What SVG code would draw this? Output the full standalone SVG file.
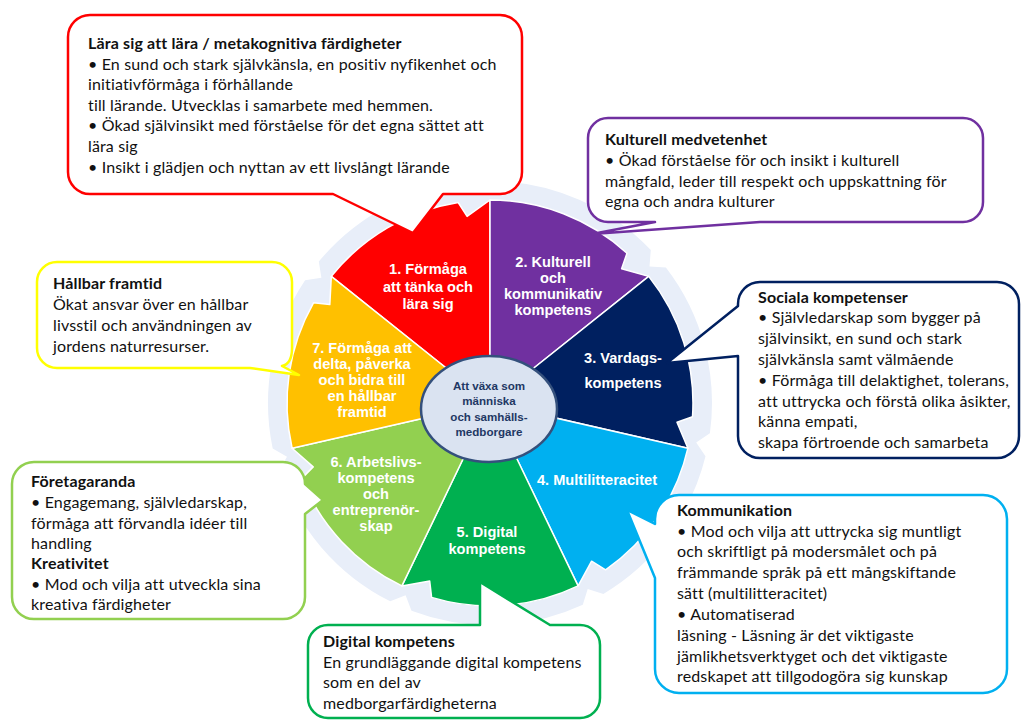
<svg xmlns="http://www.w3.org/2000/svg" width="1022" height="720" viewBox="0 0 1022 720">
<style>
.t{font-family:Lato,"Open Sans","Liberation Sans",sans-serif;font-size:16px;letter-spacing:0.15px;fill:#111}
.b{font-weight:bold}
.w{font-family:"Liberation Sans",Arial,sans-serif;font-weight:bold;font-size:14.6px;fill:#fff;text-anchor:middle}
.c{font-family:"Liberation Sans",Arial,sans-serif;font-weight:bold;font-size:11.6px;fill:#1F3864;text-anchor:middle}
.sec{stroke:#fff;stroke-width:1.5;stroke-linejoin:round}
.co{fill:#fff;stroke-width:2.5;stroke-linejoin:round}
</style>
<rect width="1022" height="720" fill="#fff"/>
<g id="ring">
<path fill="#E8EEF9" d="M493.9,181 A222,222 0 0 1 650.8,250 L649.5,266.4 L665.9,267.6 A222,222 0 0 1 709.9,433.3 L696.2,442.6 L705.5,456.2 A222,222 0 0 1 603.4,593.9 L587.7,588.9 L582.8,604.7 A222,222 0 0 1 411.5,610.7 L405.6,595.3 L390.2,601.3 A222,222 0 0 1 278.7,471.1 L287,456.8 L272.7,448.6 A222,222 0 0 1 305.1,280.2 L321.4,277.8 L318.8,261.6 A222,222 0 0 1 470.6,181.8 L482.7,193.1 Z"/>
</g>
<g id="s1">
<path class="sec" fill="#FF0000" d="M490,403 L331.3,276.4 A203,203 0 0 1 458.2,202.5 L467.1,216.4 L490,200 Z"/>
<text class="w" x="428" y="274">1. Förmåga</text>
<text class="w" x="428" y="292">att tänka och</text>
<text class="w" x="428" y="309">lära sig</text>
</g>
<g id="s2">
<path class="sec" fill="#7030A0" d="M490,403 L490,200 A203,203 0 0 1 627,253.2 L621.6,268.7 L648.7,276.4 Z"/>
<text class="w" x="553" y="267">2. Kulturell</text>
<text class="w" x="553" y="283">och</text>
<text class="w" x="553" y="299">kommunikativ</text>
<text class="w" x="553" y="315">kompetens</text>
</g>
<g id="s3">
<path class="sec" fill="#002060" d="M490,403 L648.7,276.4 A203,203 0 0 1 692.5,416.7 L677,422.2 L687.9,448.2 Z"/>
<text class="w" x="623" y="363">3. Vardags-</text>
<text class="w" x="623" y="388">kompetens</text>
</g>
<g id="s4">
<path class="sec" fill="#00B0F0" d="M490,403 L687.9,448.2 A203,203 0 0 1 605.6,569.8 L591.6,561.2 L578.1,585.9 Z"/>
<text class="w" x="597" y="485">4. Multilitteracitet</text>
</g>
<g id="s5">
<path class="sec" fill="#00B050" d="M490,403 L578.1,585.9 A203,203 0 0 1 431.6,597.4 L429.7,581.1 L401.9,585.9 Z"/>
<text class="w" x="487" y="537">5. Digital</text>
<text class="w" x="487" y="554">kompetens</text>
</g>
<g id="s6">
<path class="sec" fill="#92D050" d="M490,403 L401.9,585.9 A203,203 0 0 1 301.6,478.6 L313.2,466.9 L292.1,448.2 Z"/>
<text class="w" x="376" y="467">6. Arbetslivs-</text>
<text class="w" x="376" y="483">kompetens</text>
<text class="w" x="376" y="499">och</text>
<text class="w" x="376" y="515">entreprenör-</text>
<text class="w" x="376" y="531">skap</text>
</g>
<g id="s7">
<path class="sec" fill="#FFC000" d="M490,403 L292.1,448.2 A203,203 0 0 1 313.5,302.8 L329.8,304.6 L331.3,276.4 Z"/>
<text class="w" x="362" y="353">7. Förmåga att</text>
<text class="w" x="362" y="369">delta, påverka</text>
<text class="w" x="362" y="385">och bidra till</text>
<text class="w" x="362" y="401">en hållbar</text>
<text class="w" x="362" y="417">framtid</text>
</g>
<g id="center">
<ellipse cx="489" cy="409" rx="68" ry="53" fill="#DAE3F1" stroke="#34507C" stroke-width="2.5"/>
<text class="c" x="489" y="390">Att växa som</text>
<text class="c" x="489" y="405">människa</text>
<text class="c" x="489" y="421">och samhälls-</text>
<text class="c" x="489" y="436">medborgare</text>
</g>
<g id="c1">
<path class="co" stroke="#FF0000" d="M90,15 H500 A22,22 0 0 1 522,37 V172 A22,22 0 0 1 500,194 H443 L413,233 L333,194 H90 A22,22 0 0 1 68,172 V37 A22,22 0 0 1 90,15 Z"/>
<text class="t b" x="88" y="49">Lära sig att lära / metakognitiva färdigheter</text>
<text class="t" x="88" y="69.5">• En sund och stark självkänsla, en positiv nyfikenhet och</text>
<text class="t" x="88" y="90">initiativförmåga i förhållande</text>
<text class="t" x="88" y="110.5">till lärande. Utvecklas i samarbete med hemmen.</text>
<text class="t" x="88" y="131">• Ökad självinsikt med förståelse för det egna sättet att</text>
<text class="t" x="88" y="152">lära sig</text>
<text class="t" x="88" y="172.5">• Insikt i glädjen och nyttan av ett livslångt lärande</text>
</g>
<g id="c2">
<path class="co" stroke="#7030A0" d="M608,118 H963 A20,20 0 0 1 983,138 V202 A20,20 0 0 1 963,222 H760 L592,234 L655,222 H608 A20,20 0 0 1 588,202 V138 A20,20 0 0 1 608,118 Z"/>
<text class="t b" x="605" y="145">Kulturell medvetenhet</text>
<text class="t" x="605" y="166">• Ökad förståelse för och insikt i kulturell</text>
<text class="t" x="605" y="187">mångfald, leder till respekt och uppskattning för</text>
<text class="t" x="605" y="207">egna och andra kulturer</text>
</g>
<g id="c3">
<path class="co" stroke="#002060" d="M760,282 H997 A22,22 0 0 1 1019,304 V436 A22,22 0 0 1 997,458 H760 A22,22 0 0 1 738,436 V356 L667,363 L738,306 V304 A22,22 0 0 1 760,282 Z"/>
<text class="t b" x="758" y="303">Sociala kompetenser</text>
<text class="t" x="758" y="323">• Självledarskap som bygger på</text>
<text class="t" x="758" y="344">självinsikt, en sund och stark</text>
<text class="t" x="758" y="365">självkänsla samt välmående</text>
<text class="t" x="758" y="386">• Förmåga till delaktighet, tolerans,</text>
<text class="t" x="758" y="407">att uttrycka och förstå olika åsikter,</text>
<text class="t" x="758" y="427">känna empati,</text>
<text class="t" x="758" y="448">skapa förtroende och samarbeta</text>
</g>
<g id="c4">
<path class="co" stroke="#00B0F0" d="M679,495 H983 A24,24 0 0 1 1007,519 V669 A24,24 0 0 1 983,693 H679 A24,24 0 0 1 655,669 V578 L627,510 L655,524 V519 A24,24 0 0 1 679,495 Z"/>
<text class="t b" x="677" y="516">Kommunikation</text>
<text class="t" x="677" y="537">• Mod och vilja att uttrycka sig muntligt</text>
<text class="t" x="677" y="557">och skriftligt på modersmålet och på</text>
<text class="t" x="677" y="578">främmande språk på ett mångskiftande</text>
<text class="t" x="677" y="599">sätt (multilitteracitet)</text>
<text class="t" x="677" y="620">• Automatiserad</text>
<text class="t" x="677" y="641">läsning - Läsning är det viktigaste</text>
<text class="t" x="677" y="662">jämlikhetsverktyget och det viktigaste</text>
<text class="t" x="677" y="682">redskapet att tillgodogöra sig kunskap</text>
</g>
<g id="c5">
<path class="co" stroke="#00B050" d="M328,625 H480 L480,582 L550,625 H580 A20,20 0 0 1 600,645 V698 A20,20 0 0 1 580,718 H328 A20,20 0 0 1 308,698 V645 A20,20 0 0 1 328,625 Z"/>
<text class="t b" x="323" y="647">Digital kompetens</text>
<text class="t" x="323" y="668">En grundläggande digital kompetens</text>
<text class="t" x="323" y="688">som en del av</text>
<text class="t" x="323" y="709">medborgarfärdigheterna</text>
</g>
<g id="c6">
<path class="co" stroke="#92D050" d="M34,462 H283 A22,22 0 0 1 305,484 L323,500 L305,514 V597 A22,22 0 0 1 283,619 H34 A22,22 0 0 1 12,597 V484 A22,22 0 0 1 34,462 Z"/>
<text class="t b" x="31" y="487">Företagaranda</text>
<text class="t" x="31" y="508">• Engagemang, självledarskap,</text>
<text class="t" x="31" y="529">förmåga att förvandla idéer till</text>
<text class="t" x="31" y="549">handling</text>
<text class="t b" x="31" y="569">Kreativitet</text>
<text class="t" x="31" y="590">• Mod och vilja att utveckla sina</text>
<text class="t" x="31" y="610">kreativa färdigheter</text>
</g>
<g id="c7">
<path class="co" stroke="#FFFF00" d="M57,262 H272 A20,20 0 0 1 292,282 V348 Q292,364 282,366 L299,375 L250,368 H57 A20,20 0 0 1 37,348 V282 A20,20 0 0 1 57,262 Z"/>
<text class="t b" x="53" y="289">Hållbar framtid</text>
<text class="t" x="53" y="310">Ökat ansvar över en hållbar</text>
<text class="t" x="53" y="331">livsstil och användningen av</text>
<text class="t" x="53" y="352">jordens naturresurser.</text>
</g>
<g id="connectors"></g>
</svg>
